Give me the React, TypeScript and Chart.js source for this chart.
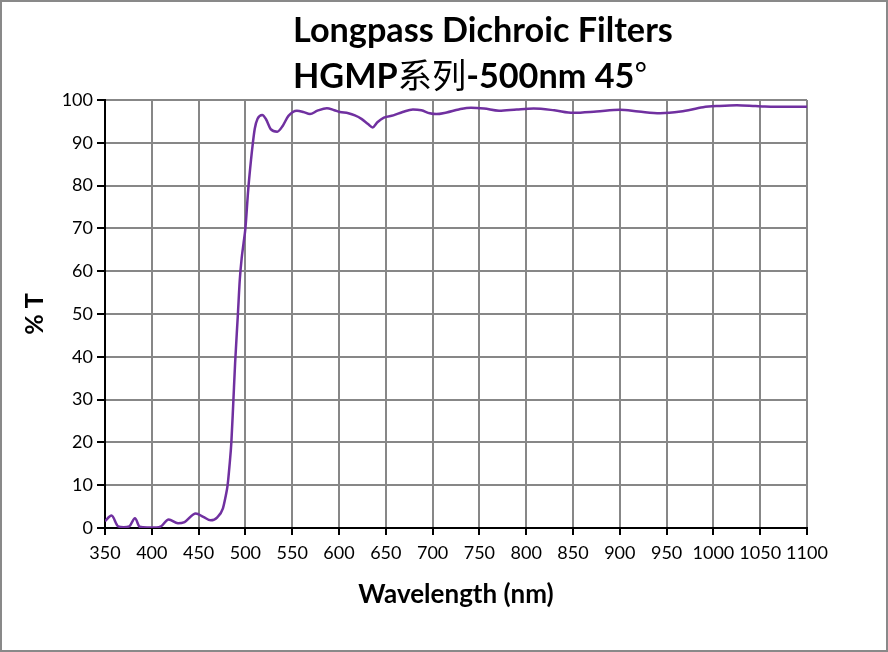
import React, { useEffect, useRef } from "react";
import { Chart, registerables } from "chart.js";

Chart.register(...registerables);

// wavelength (nm) and transmission (%T)
const wavelengths = [
  350, 357, 364, 370, 376, 382, 387, 395, 405, 410, 418, 428, 435, 447, 455,
  463, 470, 476, 479, 481, 483, 485, 487, 489, 492, 494, 496, 498, 500, 503,
  506, 508, 510, 513, 518, 522, 527, 534, 540, 546, 555, 562, 569, 577, 587,
  595, 601, 610, 617, 624, 631, 636, 641, 648, 658, 668, 679, 688, 697, 704,
  715, 728, 741, 755, 771, 790, 808, 830, 850, 875, 900, 920, 943, 965, 989,
  1005, 1025, 1045, 1055, 1075, 1100,
];
const transmission = [
  1.6, 2.9, 0.4, 0.2, 0.4, 2.3, 0.3, 0.1, 0.1, 0.4, 2.0, 1.1, 1.4, 3.4, 2.6,
  1.8, 2.5, 4.6, 7.5, 10, 14.5, 20, 29, 38.5, 50, 58, 63, 66.5, 70, 79,
  86, 90, 93.3, 95.6, 96.5, 95.5, 93.2, 92.6, 94, 96.3, 97.5, 97.2, 96.7, 97.5, 98.1,
  97.6, 97.2, 96.9, 96.4, 95.6, 94.4, 93.6, 94.8, 95.9, 96.4, 97.2, 97.8, 97.6, 96.9, 96.7,
  97.1, 97.8, 98.2, 98.0, 97.5, 97.8, 98.0, 97.6, 97.0, 97.3, 97.7, 97.3, 96.9, 97.3, 98.3,
  98.6, 98.8, 98.6, 98.5, 98.4, 98.4,
];

const xTicks = [350, 400, 450, 500, 550, 600, 650, 700, 750, 800, 850, 900, 950, 1000, 1050, 1100];
const yTicks = [0, 10, 20, 30, 40, 50, 60, 70, 80, 90, 100];

const titleLine1 = "Longpass Dichroic Filters";
const titleLine2 = [
  { text: "HGMP", cjk: false },
  { text: "系列", cjk: true },
  { text: "-500nm 45", cjk: false },
  { text: "°", cjk: true },
];

const FONT = "Lato, 'Noto Sans CJK SC', sans-serif";

const titlePlugin = {
  id: "twoLineTitle",
  afterDraw(chart: any) {
    const ctx = chart.ctx;
    ctx.save();
    ctx.fillStyle = "#000";
    ctx.textAlign = "left";
    ctx.textBaseline = "alphabetic";
    ctx.font = `bold 100px ${FONT}`;
    const size = (100 * 380) / ctx.measureText(titleLine1).width;
    ctx.font = `bold ${size}px ${FONT}`;
    ctx.fillText(titleLine1, 291, 40);
    let x = 291;
    for (const part of titleLine2) {
      ctx.font = part.cjk ? `${size}px 'Noto Sans CJK SC'` : `bold ${size}px ${FONT}`;
      ctx.fillText(part.text, x, 86);
      x += ctx.measureText(part.text).width;
    }
    ctx.restore();
  },
};

const App = () => {
  const chartRef = useRef<HTMLCanvasElement | null>(null);
  const chartInstanceRef = useRef<Chart | null>(null);

  useEffect(() => {
    const ctx = chartRef.current?.getContext("2d");
    if (!ctx) return;
    if (chartInstanceRef.current) chartInstanceRef.current.destroy();

    Chart.defaults.font.family = FONT;
    Chart.defaults.color = "#000";

    chartInstanceRef.current = new Chart(ctx, {
      type: "line",
      data: {
        datasets: [
          {
            data: wavelengths.map((w, i) => ({ x: w, y: transmission[i] })),
            borderColor: "#7030A0",
            borderWidth: 2.5,
            pointRadius: 0,
            cubicInterpolationMode: "monotone",
            fill: false,
          },
        ],
      },
      options: {
        animation: false,
        responsive: false,
        layout: { padding: { top: 98, right: 79, left: 0, bottom: 0 } },
        scales: {
          x: {
            type: "linear",
            min: 350,
            max: 1100,
            afterBuildTicks: (scale: any) => {
              scale.ticks = xTicks.map((v) => ({ value: v }));
            },
            afterFit: (scale: any) => {
              scale.height = 122;
            },
            grid: { color: "#878787", lineWidth: 2, tickColor: "#000", tickLength: 7, tickWidth: 2 },
            border: { color: "#000", width: 2 },
            ticks: {
              font: { size: 18 },
              color: "#000",
              padding: 7,
              maxRotation: 0,
              autoSkip: false,
              callback: (v: any) => String(v),
            },
            title: {
              display: true,
              text: "Wavelength (nm)",
              font: { size: 26, weight: "bold" },
              color: "#000",
              padding: { top: 0, bottom: 40 },
            },
          },
          y: {
            min: 0,
            max: 100,
            afterBuildTicks: (scale: any) => {
              scale.ticks = yTicks.map((v) => ({ value: v }));
            },
            afterFit: (scale: any) => {
              scale.width = 103;
            },
            grid: { color: "#878787", lineWidth: 2, tickColor: "#000", tickLength: 8, tickWidth: 2 },
            border: { color: "#000", width: 2 },
            ticks: { font: { size: 18 }, color: "#000", padding: 4, callback: (v: any) => String(v) },
            title: {
              display: true,
              text: "% T",
              font: { size: 25, weight: "bold" },
              color: "#000",
              padding: { top: 18, bottom: 0 },
            },
          },
        },
        plugins: {
          legend: { display: false },
          tooltip: { enabled: false },
        },
      },
      plugins: [titlePlugin],
    });

    return () => {
      if (chartInstanceRef.current) {
        chartInstanceRef.current.destroy();
        chartInstanceRef.current = null;
      }
    };
  }, []);

  return (
    <div
      style={{
        position: "absolute",
        left: 0,
        top: 0,
        width: 888,
        height: 652,
        boxSizing: "border-box",
        border: "2px solid #898989",
        background: "#fff",
      }}
    >
      <canvas ref={chartRef} width={884} height={648} style={{ display: "block" }}></canvas>
    </div>
  );
};

export default App;
